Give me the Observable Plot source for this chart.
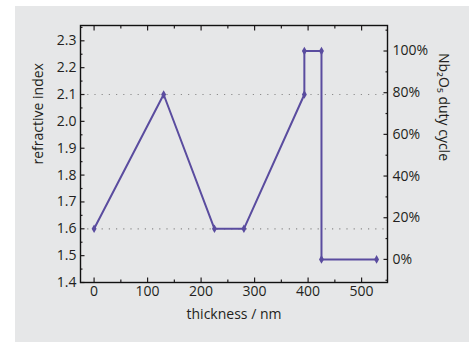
<!DOCTYPE html>
<html><head><meta charset="utf-8">
<script src="https://cdn.jsdelivr.net/npm/d3@7"></script>
<script src="https://cdn.jsdelivr.net/npm/@observablehq/plot@0.6"></script>
<style>
html,body{margin:0;padding:0;background:#fff;}
#panel{position:absolute;left:15px;top:6px;width:454px;height:336px;background:#e6e7e8;}
</style></head><body><div id="panel"></div>
<script>
// data
const thickness = [0, 130, 225, 280, 393, 393, 425, 425, 528];
const refractiveIndex = [1.6, 2.1, 1.6, 1.6, 2.1, 2.262, 2.262, 1.486, 1.486];
const guideLevels = [1.6, 2.1];
// axis ticks
const xTicks = [0, 100, 200, 300, 400, 500];
const xMinor = [50, 150, 250, 350, 450];
const yTicks = [1.4, 1.5, 1.6, 1.7, 1.8, 1.9, 2.0, 2.1, 2.2, 2.3];
const yMinor = [1.45, 1.55, 1.65, 1.75, 1.85, 1.95, 2.05, 2.15, 2.25, 2.35];
const dutyTicks = [0, 20, 40, 60, 80, 100];
const dutyMinor = [-10, 10, 30, 50, 70, 90, 110];
// refractive index at 0% and 100% Nb2O5 duty cycle (right axis alignment)
const nLow = 1.486, nHigh = 2.262;
const toIndex = d => nLow + d / 100 * (nHigh - nLow);

const data = thickness.map((t, i) => ({t, n: refractiveIndex[i]}));
const purple = "#5a4c9f";
const ink = "#231f20";

const chart = Plot.plot({
  width: 454, height: 336,
  marginLeft: 65, marginRight: 82, marginTop: 19, marginBottom: 60,
  style: {background: "transparent", fontFamily: "'Open Sans', sans-serif", fontSize: "14px", color: ink},
  x: {domain: [-25.4, 548.4]},
  y: {domain: [1.4, 2.357]},
  marks: [
    Plot.ruleY(guideLevels, {stroke: "#8c8c8c", strokeWidth: 1.2, strokeDasharray: "1.2,6"}),
    Plot.line(data, {x: "t", y: "n", stroke: purple, strokeWidth: 2}),
    Plot.dot(data, {x: "t", y: "n", symbol: "diamond", r: 2.6, fill: purple, stroke: null}),
    // bottom axis
    Plot.axisX(xTicks, {anchor: "bottom", tickSize: 0, tickPadding: 4, label: null}),
    Plot.axisX(xTicks, {anchor: "bottom", text: null, tickSize: 4.5, dy: -4.5, label: null, stroke: ink, strokeWidth: 1.2}),
    Plot.axisX(xMinor, {anchor: "bottom", text: null, tickSize: 2.5, dy: -2.5, label: null, stroke: ink, strokeWidth: 1.2}),
    Plot.axisX(xTicks, {anchor: "top", text: null, tickSize: 4.5, dy: 4.5, label: null, stroke: ink, strokeWidth: 1.2}),
    Plot.axisX(xMinor, {anchor: "top", text: null, tickSize: 2.5, dy: 2.5, label: null, stroke: ink, strokeWidth: 1.2}),
    // left axis
    Plot.axisY(yTicks, {anchor: "left", tickSize: 0, tickPadding: 4, label: null, tickFormat: d3.format(".1f")}),
    Plot.axisY(yTicks, {anchor: "left", text: null, tickSize: 4.5, dx: 4.5, label: null, stroke: ink, strokeWidth: 1.2}),
    Plot.axisY(yMinor, {anchor: "left", text: null, tickSize: 2.5, dx: 2.5, label: null, stroke: ink, strokeWidth: 1.2}),
    // right axis (duty cycle)
    Plot.axisY(dutyTicks.map(toIndex), {anchor: "right", tickSize: 0, tickPadding: 5, label: null,
      tickFormat: v => Math.round((v - nLow) / (nHigh - nLow) * 100) + "%"}),
    Plot.axisY(dutyTicks.map(toIndex), {anchor: "right", text: null, tickSize: 4.5, dx: -4.5, label: null, stroke: ink, strokeWidth: 1.2}),
    Plot.axisY(dutyMinor.map(toIndex), {anchor: "right", text: null, tickSize: 2.5, dx: -2.5, label: null, stroke: ink, strokeWidth: 1.2}),
    // axis titles
    Plot.text(["thickness / nm"], {frameAnchor: "bottom", text: d => d, dy: 36, fill: ink}),
    Plot.text(["refractive index"], {frameAnchor: "left", text: d => d, rotate: -90, dx: -42, dy: 10.5, fill: ink}),
    Plot.text(["Nb₂O₅ duty cycle"], {frameAnchor: "right", text: d => d, rotate: 90, dx: 56, dy: 7, fill: ink}),
    Plot.frame({stroke: "#111", strokeWidth: 1.4})
  ]
});
document.getElementById("panel").appendChild(chart);
</script></body></html>
